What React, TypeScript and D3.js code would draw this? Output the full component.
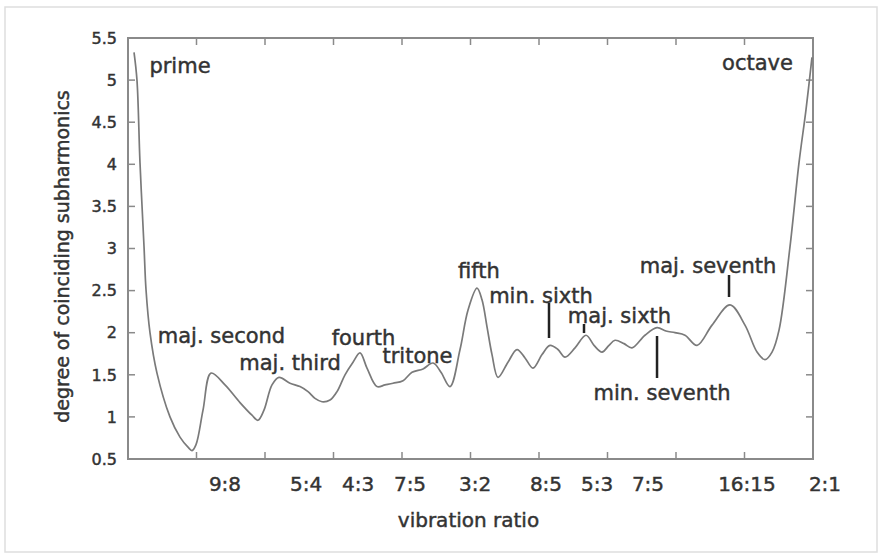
import React from "react";
import * as d3 from "d3";

// curve samples: vibration ratio (x) vs degree of coinciding subharmonics (y)
const ratio = [
  1.0088, 1.0131, 1.0175, 1.0234, 1.0263, 1.0321, 1.0423, 1.0613, 1.0759, 1.0876,
  1.0934, 1.0993, 1.1095, 1.1212, 1.1416, 1.1635, 1.181, 1.1898, 1.1985, 1.2102,
  1.2204, 1.2365, 1.2511, 1.2628, 1.273, 1.2832, 1.2949, 1.3051, 1.3168, 1.3285,
  1.3387, 1.3489, 1.3635, 1.3752, 1.3869, 1.4015, 1.4146, 1.4307, 1.4453, 1.4569,
  1.4701, 1.4847, 1.4964, 1.5095, 1.5168, 1.5241, 1.5314, 1.5402, 1.5547, 1.5679,
  1.5796, 1.5912, 1.6044, 1.6161, 1.6277, 1.638, 1.6526, 1.6686, 1.6803, 1.692,
  1.7022, 1.711, 1.7241, 1.7358, 1.7547, 1.7723, 1.7854, 1.7985, 1.8131, 1.8307,
  1.8526, 1.8788, 1.9007, 1.9183, 1.9299, 1.9402, 1.9504, 1.9664, 1.9796, 1.9898,
  1.9985,
];
const degree = [
  5.33, 5.0, 4.02, 3.02, 2.51, 2.0, 1.52, 1.0, 0.76, 0.64,
  0.6, 0.67, 1.08, 1.52, 1.38, 1.17, 1.02, 0.96, 1.08, 1.38,
  1.47, 1.4, 1.36, 1.3, 1.22, 1.18, 1.2, 1.3, 1.5, 1.65,
  1.76, 1.58, 1.36, 1.38, 1.4, 1.43, 1.53, 1.57, 1.64, 1.53,
  1.36, 1.8, 2.27, 2.53, 2.39, 2.07, 1.74, 1.47, 1.65, 1.8,
  1.7, 1.58, 1.74, 1.85, 1.8, 1.71, 1.82, 1.97, 1.85, 1.77,
  1.85, 1.91, 1.87, 1.82, 1.97, 2.06, 2.02, 2.0, 1.97, 1.85,
  2.09, 2.33, 2.09, 1.77, 1.68, 1.77, 2.03, 3.02, 4.02, 4.65,
  5.27,
];

const xTicks = [1.0, 1.1, 1.2, 1.3, 1.4, 1.5, 1.6, 1.7, 1.8, 1.9, 2.0];
const yTicks = [0.5, 1, 1.5, 2, 2.5, 3, 3.5, 4, 4.5, 5, 5.5];
const yTickLabels = ["0.5", "1", "1.5", "2", "2.5", "3", "3.5", "4", "4.5", "5", "5.5"];

const xLabelText = ["9:8", "5:4", "4:3", "7:5", "3:2", "8:5", "5:3", "7:5", "16:15", "2:1"];
const xLabelPos = [1.1416, 1.2599, 1.3358, 1.4117, 1.5066, 1.6102, 1.6847, 1.7591, 1.9036, 2.0175];

const noteText = [
  "prime", "octave", "maj. second", "maj. third", "fourth", "tritone",
  "fifth", "min. sixth", "maj. sixth", "min. seventh", "maj. seventh",
];
const noteX = [1.0759, 1.919, 1.1365, 1.2365, 1.3438, 1.4226, 1.5124, 1.6029, 1.7175, 1.7796, 1.8467];
const noteY = [5.18, 5.215, 1.973, 1.652, 1.949, 1.735, 2.745, 2.448, 2.21, 1.296, 2.804];

const markX = [1.6146, 1.6657, 1.7723, 1.8774];
const markTop = [2.353, 2.103, 1.961, 2.685];
const markBottom = [1.937, 1.996, 1.462, 2.424];

const W = 880;
const H = 554;
const FONT = "'DejaVu Sans', Verdana, sans-serif";
const TEXT = "#333";
const textStyle = { stroke: TEXT, strokeWidth: 0.45 } as const;

export default function App() {
  const x = d3.scaleLinear().domain([1, 2]).range([128, 813]);
  const y = d3.scaleLinear().domain([0.5, 5.5]).range([459, 38]);
  const pts: [number, number][] = ratio.map((r, i) => [r, degree[i]]);
  const line = d3
    .line<[number, number]>()
    .x((d) => x(d[0]))
    .y((d) => y(d[1]))
    .curve(d3.curveCatmullRom.alpha(0.5));
  const tl = 7;
  return (
    <svg
      width={W}
      height={H}
      style={{ position: "absolute", left: 0, top: 0, background: "#fff" }}
      fontFamily={FONT}
    >
      <rect x={5} y={7} width={872} height={545} fill="#fff" stroke="#dedede" strokeWidth={1.5} />
      {/* ticks */}
      {xTicks.map((t, i) => (
        <g key={"xt" + i} stroke="#8a8a8a" strokeWidth={1.5}>
          <line x1={x(t)} x2={x(t)} y1={y(0.5)} y2={y(0.5) - tl} />
          <line x1={x(t)} x2={x(t)} y1={y(5.5)} y2={y(5.5) + tl} />
        </g>
      ))}
      {yTicks.map((t, i) => (
        <g key={"yt" + i} stroke="#8a8a8a" strokeWidth={1.5}>
          <line x1={x(1)} x2={x(1) + tl} y1={y(t)} y2={y(t)} />
          <line x1={x(2)} x2={x(2) - tl} y1={y(t)} y2={y(t)} />
        </g>
      ))}
      <rect
        x={x(1)}
        y={y(5.5)}
        width={x(2) - x(1)}
        height={y(0.5) - y(5.5)}
        fill="none"
        stroke="#8a8a8a"
        strokeWidth={2}
      />
      {/* y tick labels */}
      {yTicks.map((t, i) => (
        <text
          key={"yl" + i}
          x={117}
          y={y(t)}
          dy="0.36em"
          textAnchor="end"
          fontSize={16}
          fill={TEXT}
          style={textStyle}
        >
          {yTickLabels[i]}
        </text>
      ))}
      {/* x tick labels */}
      {xLabelText.map((t, i) => (
        <text
          key={"xl" + i}
          x={x(xLabelPos[i])}
          y={491}
          textAnchor="middle"
          fontSize={20}
          fill={TEXT}
          style={textStyle}
        >
          {t}
        </text>
      ))}
      <text
        x={(x(1) + x(2)) / 2 - 2}
        y={527}
        textAnchor="middle"
        fontSize={20}
        fill={TEXT}
        style={textStyle}
      >
        vibration ratio
      </text>
      <text
        transform={`translate(69, ${(y(0.5) + y(5.5)) / 2 + 8}) rotate(-90)`}
        textAnchor="middle"
        fontSize={19}
        fill={TEXT}
        style={textStyle}
      >
        degree of coinciding subharmonics
      </text>
      {/* curve */}
      <path d={line(pts) || ""} fill="none" stroke="#7a7a7a" strokeWidth={1.7} />
      {/* markers */}
      {markX.map((m, i) => (
        <line
          key={"mk" + i}
          x1={x(m)}
          x2={x(m)}
          y1={y(markTop[i])}
          y2={y(markBottom[i])}
          stroke="#222"
          strokeWidth={2.5}
        />
      ))}
      {/* annotations */}
      {noteText.map((t, i) => (
        <text
          key={"nt" + i}
          x={x(noteX[i])}
          y={y(noteY[i])}
          dy="0.36em"
          textAnchor="middle"
          fontSize={21}
          fill={TEXT}
          style={textStyle}
        >
          {t}
        </text>
      ))}
    </svg>
  );
}
